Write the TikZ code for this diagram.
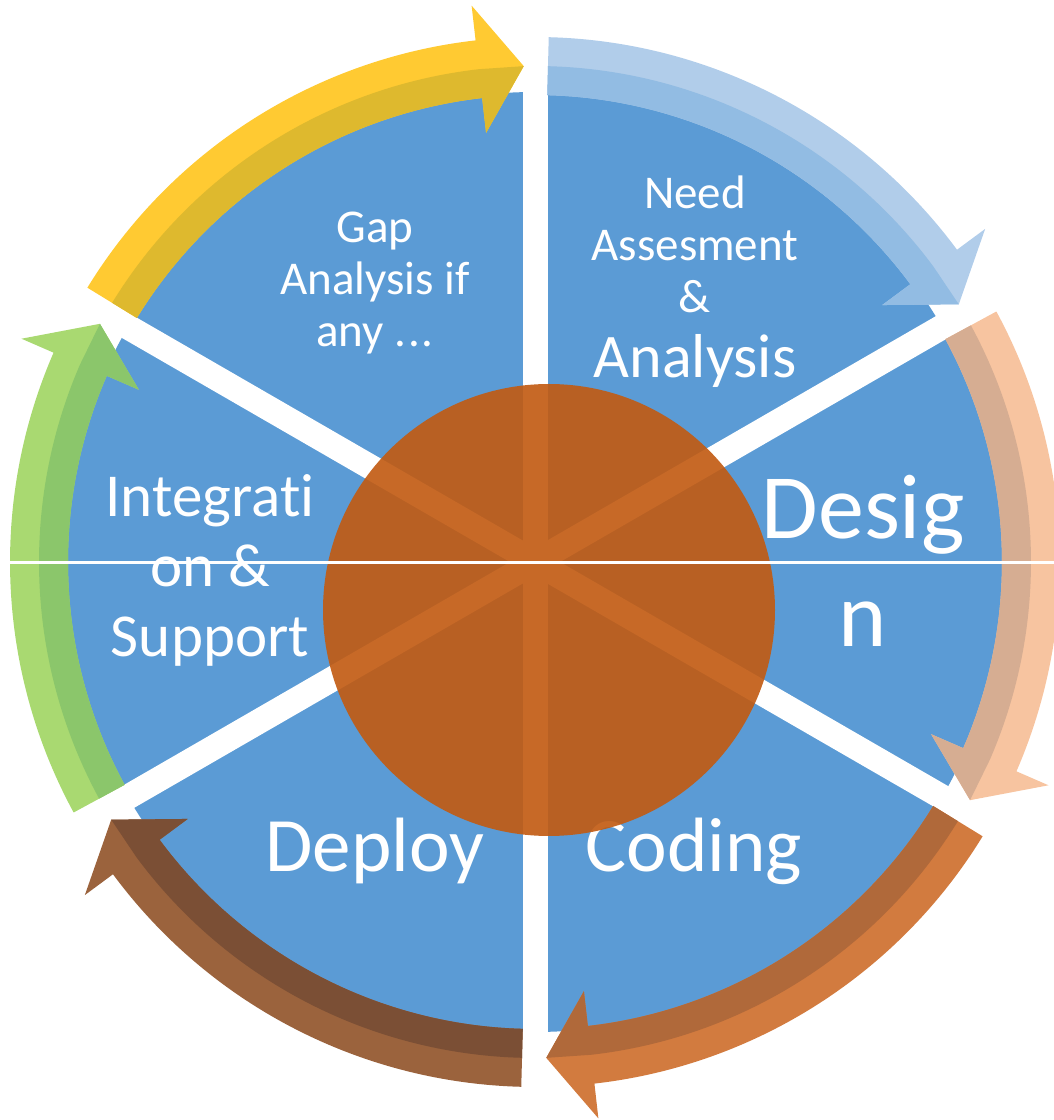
\documentclass[tikz,border=0pt]{standalone}
\usepackage{fontspec}
\setmainfont{Carlito}[Ligatures=NoCommon]
\definecolor{secblue}{RGB}{91,155,213}
\definecolor{hubor}{RGB}{194,91,18}
\definecolor{needlt}{RGB}{177,205,234}
\definecolor{needdk}{RGB}{146,188,227}
\definecolor{designlt}{RGB}{247,196,160}
\definecolor{designdk}{RGB}{214,173,146}
\definecolor{codelt}{RGB}{210,123,63}
\definecolor{codedk}{RGB}{176,105,58}
\definecolor{deploylt}{RGB}{155,99,61}
\definecolor{deploydk}{RGB}{123,79,53}
\definecolor{integlt}{RGB}{169,217,113}
\definecolor{integdk}{RGB}{139,198,107}
\definecolor{gaplt}{RGB}{255,202,50}
\definecolor{gapdk}{RGB}{222,185,46}

\begin{document}
\begin{tikzpicture}[x=1pt,y=1pt,
    sector/.style={fill=secblue},
    gapline/.style={white, line width=25pt},
    hub/.style={fill=hubor, fill opacity=0.91},
    lbl/.style={text=white, align=center, inner sep=0pt}]
\useasboundingbox (0,0) rectangle (1054,1120);

\begin{scope}[shift={(535,558)}]
\fill[sector] (0,0) circle[radius=470pt];
\foreach \a in {30,90,...,330}
    \draw[gapline] (0,0) -- (\a:480pt);
\foreach \u/\lc/\dc in {90/needlt/needdk,30/designlt/designdk,-30/codelt/codedk,-90/deploylt/deploydk,-150/integlt/integdk,150/gaplt/gapdk}{
    \pgfmathsetmacro\s{\u-1.5}
    \pgfmathsetmacro\b{\u-53.5}
    \pgfmathsetmacro\t{\u-58.7}
    \fill[\lc] (\s:525pt) arc[start angle=\s, end angle=\b, radius=525pt] -- (\b:560pt) -- (\t:496pt)
        -- (\b:432pt) -- (\b:467pt) arc[start angle=\b, end angle=\s, radius=467pt] -- cycle;
    \fill[\dc] (\s:496pt) arc[start angle=\s, end angle=\b, radius=496pt] -- (\t:496pt)
        -- (\b:432pt) -- (\b:467pt) arc[start angle=\b, end angle=\s, radius=467pt] -- cycle;
}
\end{scope}

\node[lbl, font=\fontsize{47}{52}\selectfont] (gap) at (375,837) {Gap\\Analysis if\\any .\kern2pt.\kern2pt.};
\node[lbl, font=\fontsize{47}{52}\selectfont] (need) at (695,876) {Need\\Assesment\\\&};
\node[lbl, font=\fontsize{62}{70}\selectfont, anchor=base] (analysis) at (695,742) {Analysis};
\node[lbl, font=\fontsize{92}{108}\selectfont] (design) at (863,559) {Desig\\n};
\node[lbl, font=\fontsize{77}{90}\selectfont, anchor=base] (coding) at (694,248) {Coding};
\node[lbl, font=\fontsize{77}{90}\selectfont, anchor=base] (deploy) at (375,248) {Deploy};
\node[lbl, font=\fontsize{61}{70}\selectfont] (integ) at (210,550) {Integrati\\on \&\\Support};

\fill[hub] (549,510) circle[radius=226pt];
\draw[white, line width=3pt] (10,557) -- (1054,557);
\end{tikzpicture}
\end{document}
